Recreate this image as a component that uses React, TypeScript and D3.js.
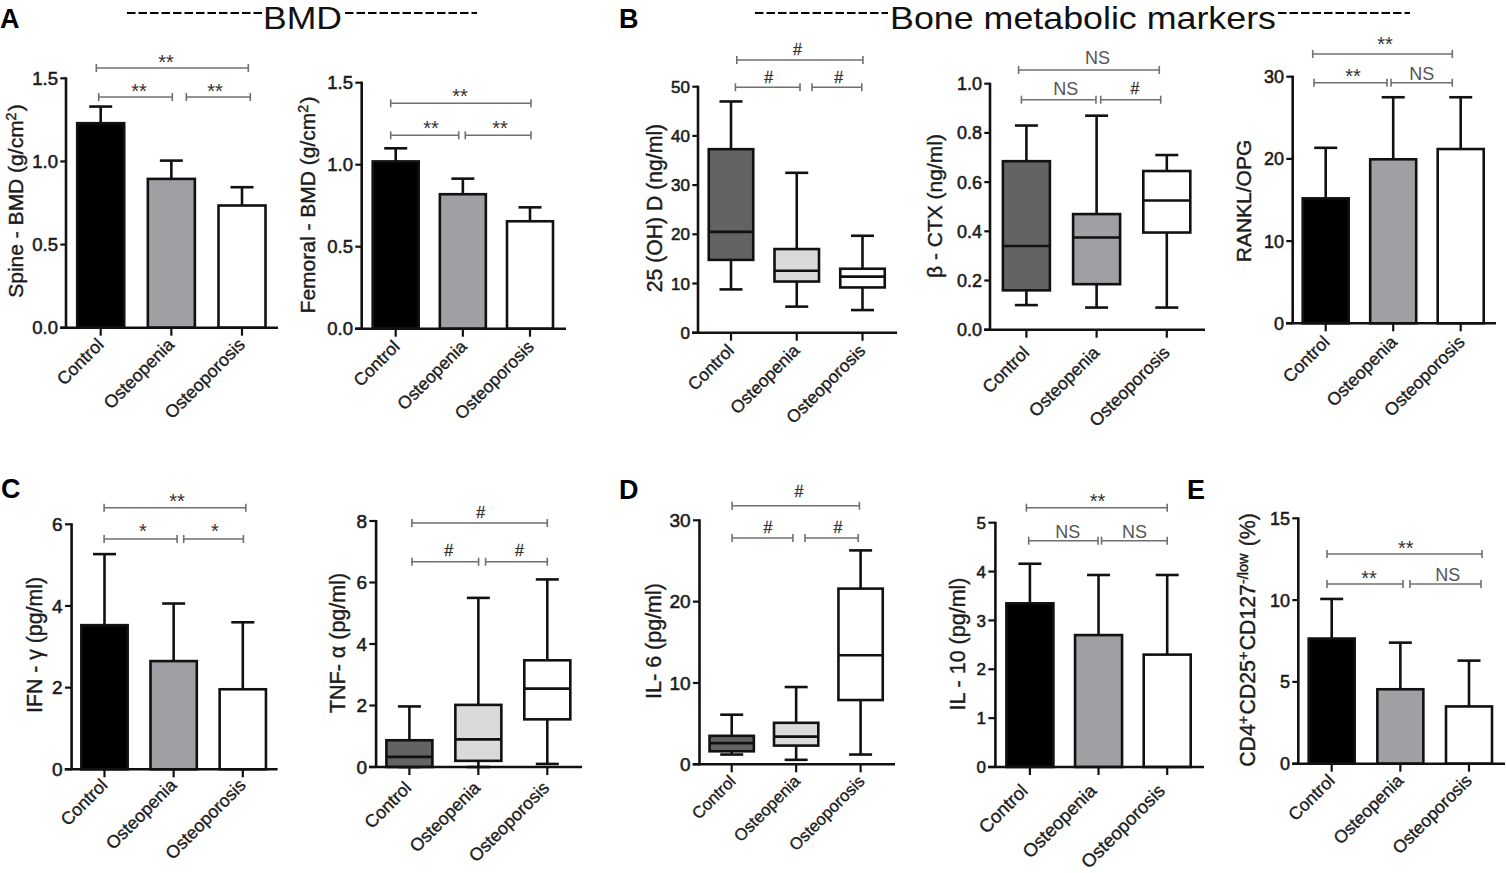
import React from "react";
import * as d3 from "d3";

// ---------- data ----------
const groups = ["Control", "Osteopenia", "Osteoporosis"];

const spineMean = [1.23, 0.895, 0.735];
const spineUpper = [1.33, 1.005, 0.845];
const femoralMean = [1.02, 0.82, 0.655];
const femoralUpper = [1.1, 0.915, 0.74];
const ranklMean = [15.2, 19.95, 21.2];
const ranklUpper = [21.35, 27.5, 27.5];
const ifnMean = [3.53, 2.65, 1.96];
const ifnUpper = [5.27, 4.06, 3.6];
const il10Mean = [3.35, 2.7, 2.3];
const il10Upper = [4.16, 3.93, 3.93];
const tregMean = [7.65, 4.55, 3.5];
const tregUpper = [10.07, 7.4, 6.3];

// min, q1, median, q3, max
const vitDControl = [8.8, 14.8, 20.5, 37.3, 47];
const vitDOsteopenia = [5.3, 10.4, 12.6, 17, 32.5];
const vitDOsteoporosis = [4.6, 9.2, 11.4, 13, 19.7];
const ctxControl = [0.1, 0.16, 0.34, 0.685, 0.83];
const ctxOsteopenia = [0.09, 0.185, 0.375, 0.47, 0.87];
const ctxOsteoporosis = [0.09, 0.395, 0.525, 0.645, 0.71];
const tnfControl = [0, 0, 0.33, 0.87, 1.97];
const tnfOsteopenia = [0, 0.2, 0.9, 2.02, 5.5];
const tnfOsteoporosis = [0.1, 1.55, 2.55, 3.47, 6.1];
const il6Control = [1.2, 1.6, 2.6, 3.5, 6.1];
const il6Osteopenia = [0.55, 2.3, 3.4, 5.1, 9.5];
const il6Osteoporosis = [1.2, 7.9, 13.4, 21.6, 26.3];

const ticks15 = [0, 0.5, 1, 1.5];
const ticks50 = [0, 10, 20, 30, 40, 50];
const ticks1 = [0, 0.2, 0.4, 0.6, 0.8, 1];
const ticks30 = [0, 10, 20, 30];
const ticks6 = [0, 2, 4, 6];
const ticks8 = [0, 2, 4, 6, 8];
const ticks5 = [0, 1, 2, 3, 4, 5];
const ticks15b = [0, 5, 10, 15];

const sigSpine = ["**", "**", "**"];
const sigFemoral = ["**", "**", "**"];
const sigVitD = ["#", "#", "#"];
const sigCtx = ["NS", "NS", "#"];
const sigRankl = ["**", "**", "NS"];
const sigIfn = ["**", "*", "*"];
const sigTnf = ["#", "#", "#"];
const sigIl6 = ["#", "#", "#"];
const sigIl10 = ["**", "NS", "NS"];
const sigTreg = ["**", "**", "NS"];

// ---------- colours ----------
const BLACK = "#000";
const GREY = "#a0a0a4";
const DARK = "#636363";
const LIGHT = "#dadada";
const WHITE = "#fff";
const barFills = [BLACK, GREY, WHITE];
const INK = "#1c1c1c";
const SIG = "#6f6f6f";
const SANS = "'Liberation Sans', Arial, sans-serif";

// ---------- helpers ----------
type Br = [number, number, number];
type PanelProps = {
  ax: number; y0: number; yTop: number; xEnd: number; axStart: number;
  t1: number; t3: number; w: number; max: number; ticks: number[]; fmt: string;
  mean?: number[]; upper?: number[]; boxes?: number[][]; fills?: string[];
  sig: string[]; br: Br[]; lab: [number, number][];
  title: React.ReactNode; tx: number; ty: number; tfs: number;
  xfs: number; yfs: number; lx: number; ly: number;
};

function Panel(p: PanelProps) {
  const y = d3.scaleLinear().domain([0, p.max]).range([p.y0, p.yTop]);
  const x = d3.scalePoint<string>().domain(groups).range([p.t1, p.t3]);
  const format = d3.format(p.fmt);
  const capW = 23;
  const sw = 2.6;
  return (
    <g>
      {p.mean && p.upper && groups.map((g, i) => {
        const cx = x(g)!;
        return (
          <g key={g}>
            <line x1={cx} x2={cx} y1={y(p.mean![i])} y2={y(p.upper![i])} stroke="#111" strokeWidth={sw} />
            <line x1={cx - capW / 2} x2={cx + capW / 2} y1={y(p.upper![i])} y2={y(p.upper![i])} stroke="#111" strokeWidth={sw} />
            <rect x={cx - p.w / 2} width={p.w} y={y(p.mean![i])} height={p.y0 - y(p.mean![i])}
              fill={barFills[i]} stroke="#111" strokeWidth={sw} />
          </g>
        );
      })}
      {p.boxes && groups.map((g, i) => {
        const cx = x(g)!;
        const [mn, q1, md, q3, mx] = p.boxes![i];
        return (
          <g key={g}>
            <line x1={cx} x2={cx} y1={y(mn)} y2={y(mx)} stroke="#111" strokeWidth={sw} />
            <line x1={cx - capW / 2} x2={cx + capW / 2} y1={y(mx)} y2={y(mx)} stroke="#111" strokeWidth={sw} />
            <line x1={cx - capW / 2} x2={cx + capW / 2} y1={y(mn)} y2={y(mn)} stroke="#111" strokeWidth={sw} />
            <rect x={cx - p.w / 2} width={p.w} y={y(q3)} height={y(q1) - y(q3)}
              fill={p.fills![i]} stroke="#111" strokeWidth={sw} />
            <line x1={cx - p.w / 2} x2={cx + p.w / 2} y1={y(md)} y2={y(md)} stroke="#111" strokeWidth={sw} />
          </g>
        );
      })}
      {/* axes */}
      <line x1={p.ax} x2={p.ax} y1={p.yTop - 1} y2={p.y0 + 1} stroke="#111" strokeWidth={sw} />
      <line x1={p.axStart} x2={p.xEnd} y1={p.y0} y2={p.y0} stroke="#111" strokeWidth={sw} />
      {p.ticks.map((t) => (
        <g key={t}>
          <line x1={p.axStart + (p.ax - p.axStart) * 0.05} x2={p.ax} y1={y(t)} y2={y(t)} stroke="#111" strokeWidth={2.2} />
          <text x={p.axStart - 2} y={y(t) + p.yfs * 0.36} textAnchor="end" fontFamily={SANS}
            fontSize={p.yfs} fill={INK} stroke={INK} strokeWidth={0.55}>{format(t)}</text>
        </g>
      ))}
      {groups.map((g) => (
        <g key={g}>
          <line x1={x(g)} x2={x(g)} y1={p.y0} y2={p.y0 + 8} stroke="#111" strokeWidth={2.2} />
          <text transform={`translate(${x(g)! + p.lx},${p.y0 + p.ly}) rotate(-45)`} textAnchor="end"
            fontFamily={SANS} fontSize={p.xfs} fill={INK} stroke={INK} strokeWidth={0.35}>{g}</text>
        </g>
      ))}
      {/* significance brackets */}
      {p.br.map(([a, b, yy], i) => (
        <g key={i} stroke={SIG} strokeWidth={1.6}>
          <line x1={a} x2={b} y1={yy} y2={yy} />
          <line x1={a} x2={a} y1={yy - 4} y2={yy + 4} />
          <line x1={b} x2={b} y1={yy - 4} y2={yy + 4} />
        </g>
      ))}
      {p.sig.map((s, i) => {
        const [lxx, lyy] = p.lab[i];
        if (s === "NS") return <text key={i} x={lxx} y={lyy + 6.5} textAnchor="middle" fontFamily={SANS} fontSize={18} fill="#555">NS</text>;
        if (s === "#") return <text key={i} x={lxx} y={lyy + 6} textAnchor="middle" fontFamily={SANS} fontSize={16} fill="#333" stroke="#333" strokeWidth={0.3}>#</text>;
        return <text key={i} x={lxx} y={lyy + 9.5} textAnchor="middle" fontFamily={SANS} fontSize={20} fill="#333">{s}</text>;
      })}
      <text transform={`translate(${p.tx},${p.ty}) rotate(-90)`} textAnchor="middle" fontFamily={SANS}
        fontSize={p.tfs} fill={INK} stroke={INK} strokeWidth={0.4}>{p.title}</text>
    </g>
  );
}

const Sup = ({ children }: { children: React.ReactNode }) => (
  <>
    <tspan dy={-7} fontSize="0.68em">{children}</tspan>
    <tspan dy={7} fontSize="0.68em">{"\u200a"}</tspan>
  </>
);

function Header({ label, x, lenX, d1, d2 }: { label: string; x: number; lenX: number; d1: [number, number]; d2: [number, number] }) {
  return (
    <g>
      <line x1={d1[0]} x2={d1[1]} y1={13} y2={13} stroke="#000" strokeWidth={2} strokeDasharray="8.5 3" />
      <line x1={d2[0]} x2={d2[1]} y1={13} y2={13} stroke="#000" strokeWidth={2} strokeDasharray="8.5 3" />
      <text x={x} y={29} fontFamily={SANS} fontSize={32} fill="#111" textLength={lenX} lengthAdjust="spacingAndGlyphs">{label}</text>
    </g>
  );
}

const Letter = ({ x, y, c }: { x: number; y: number; c: string }) => (
  <text x={x} y={y} fontFamily={SANS} fontWeight="bold" fontSize={27} fill="#000">{c}</text>
);

export default function App() {
  return (
    <svg width={1506} height={873} viewBox="0 0 1506 873"
      style={{ position: "absolute", left: 0, top: 0, background: "#fff" }}>
      <Header label="BMD" x={263} lenX={79} d1={[127, 262]} d2={[345, 477]} />
      <Header label="Bone metabolic markers" x={890} lenX={386} d1={[755, 888]} d2={[1278, 1410]} />
      <Letter x={0} y={28} c="A" />
      <Letter x={619} y={28} c="B" />
      <Letter x={1} y={498} c="C" />
      <Letter x={619} y={499} c="D" />
      <Letter x={1187} y={499} c="E" />

      <Panel ax={66} y0={327.7} yTop={78.3} axStart={60} xEnd={278} t1={100.7} t3={242} w={47} max={1.5}
        ticks={ticks15} fmt=".1f" mean={spineMean} upper={spineUpper} sig={sigSpine}
        br={[[96.3, 248.3, 68], [98.7, 172.3, 97], [186.3, 250.3, 97]]}
        lab={[[166, 59], [139, 88], [215, 88]]}
        title={<>Spine - BMD (g/cm<Sup>2</Sup>)</>} tx={23} ty={201} tfs={21} xfs={17.8} yfs={18.5} lx={4} ly={18} />

      <Panel ax={361.7} y0={328.7} yTop={82.7} axStart={355} xEnd={566} t1={395.7} t3={530} w={46} max={1.5}
        ticks={ticks15} fmt=".1f" mean={femoralMean} upper={femoralUpper} sig={sigFemoral}
        br={[[390.7, 531, 103.3], [390.7, 458.7, 135.3], [465.3, 531, 135.3]]}
        lab={[[460, 93.3], [431, 125], [500, 125]]}
        title={<>Femoral - BMD (g/cm<Sup>2</Sup>)</>} tx={315} ty={205} tfs={21} xfs={17.5} yfs={18.5} lx={5} ly={19} />

      <Panel ax={698} y0={332.7} yTop={86.7} axStart={692} xEnd={897} t1={731} t3={862.5} w={44.5} max={50}
        ticks={ticks50} fmt="d" boxes={[vitDControl, vitDOsteopenia, vitDOsteoporosis]} fills={[DARK, LIGHT, WHITE]} sig={sigVitD}
        br={[[736.8, 862.9, 60], [735.4, 800, 87.3], [812, 861.8, 87.3]]}
        lab={[[797.5, 49.3], [768.6, 77.3], [838.6, 77]]}
        title="25 (OH) D (ng/ml)" tx={662} ty={208} tfs={21.2} xfs={17.5} yfs={17} lx={4} ly={19} />

      <Panel ax={990} y0={329.7} yTop={83.7} axStart={984} xEnd={1205} t1={1026.4} t3={1166.8} w={47} max={1}
        ticks={ticks1} fmt=".1f" boxes={[ctxControl, ctxOsteopenia, ctxOsteoporosis]} fills={[DARK, GREY, WHITE]} sig={sigCtx}
        br={[[1018.6, 1159.3, 70], [1021.4, 1096, 99.7], [1100.7, 1160.7, 99.7]]}
        lab={[[1097.5, 57], [1065.7, 88], [1135, 88]]}
        title={<>{"\u03b2 - CTX (ng/ml)"}</>} tx={942} ty={206} tfs={21} xfs={17.8} yfs={18} lx={4} ly={24} />

      <Panel ax={1292.7} y0={323.3} yTop={76.7} axStart={1286} xEnd={1496} t1={1325.7} t3={1460.7} w={46} max={30}
        ticks={ticks30} fmt="d" mean={ranklMean} upper={ranklUpper} sig={sigRankl}
        br={[[1312.7, 1452.3, 54], [1314, 1387, 82.7], [1391, 1452.3, 82.7]]}
        lab={[[1385, 41.7], [1353, 73], [1421.7, 73]]}
        title="RANKL/OPG" tx={1251} ty={201} tfs={21} xfs={17.8} yfs={18} lx={5} ly={20} />

      <Panel ax={71.6} y0={769.3} yTop={524.3} axStart={64.7} xEnd={277.6} t1={104.5} t3={242.8} w={46.3} max={6}
        ticks={ticks6} fmt="d" mean={ifnMean} upper={ifnUpper} sig={sigIfn}
        br={[[104.1, 245.8, 507.7], [104.1, 177.1, 539], [183.7, 243.4, 539]]}
        lab={[[177.1, 498], [142.8, 528], [214.9, 528]]}
        title={<>{"IFN - \u03b3 (pg/ml)"}</>} tx={42} ty={645} tfs={21.3} xfs={17.8} yfs={19} lx={4} ly={17} />

      <Panel ax={376.1} y0={767} yTop={521} axStart={369} xEnd={582} t1={409.4} t3={547.3} w={46} max={8}
        ticks={ticks8} fmt="d" boxes={[tnfControl, tnfOsteopenia, tnfOsteoporosis]} fills={[DARK, LIGHT, WHITE]} sig={sigTnf}
        br={[[411.9, 547.3, 523], [411.9, 478.6, 561.7], [485.6, 547.3, 561.7]]}
        lab={[[480.6, 511.7], [448.7, 550], [519.4, 550]]}
        title={<>{"TNF- \u03b1 (pg/ml)"}</>} tx={345} ty={643} tfs={21.5} xfs={17.8} yfs={19} lx={3} ly={22} />

      <Panel ax={699.5} y0={764.3} yTop={520.3} axStart={692.6} xEnd={895} t1={731.7} t3={860.6} w={44.3} max={30}
        ticks={ticks30} fmt="d" boxes={[il6Control, il6Osteopenia, il6Osteoporosis]} fills={[DARK, LIGHT, WHITE]} sig={sigIl6}
        br={[[732.1, 859.4, 505.7], [732.1, 792.9, 538], [805, 858.2, 538]]}
        lab={[[799, 491], [768, 527], [838, 527]]}
        title="IL- 6 (pg/ml)" tx={661} ty={641} tfs={21.5} xfs={16.7} yfs={19} lx={5} ly={18} />

      <Panel ax={995.4} y0={767} yTop={522.7} axStart={988} xEnd={1204} t1={1029.9} t3={1167.2} w={47} max={5}
        ticks={ticks5} fmt="d" mean={il10Mean} upper={il10Upper} sig={sigIl10}
        br={[[1026.4, 1167.2, 507.7], [1028.7, 1098, 540.7], [1101.5, 1167.2, 540.7]]}
        lab={[[1097.5, 498], [1067.7, 531], [1134.4, 531]]}
        title="IL - 10 (pg/ml)" tx={965} ty={644} tfs={21.5} xfs={18.6} yfs={17} lx={-1} ly={25} />

      <Panel ax={1298.3} y0={763.7} yTop={518.3} axStart={1292} xEnd={1505} t1={1331.7} t3={1469} w={46} max={15}
        ticks={ticks15b} fmt="d" mean={tregMean} upper={tregUpper} sig={sigTreg}
        br={[[1327, 1482, 554], [1327, 1403, 584], [1410, 1481, 584]]}
        lab={[[1405.7, 545], [1369, 575], [1447.7, 574]]}
        title={<>CD4<Sup>+</Sup>CD25<Sup>+</Sup>CD127<Sup>-/low</Sup> (%)</>} tx={1255} ty={640} tfs={21.3} xfs={17.6} yfs={18} lx={4} ly={18} />
    </svg>
  );
}
